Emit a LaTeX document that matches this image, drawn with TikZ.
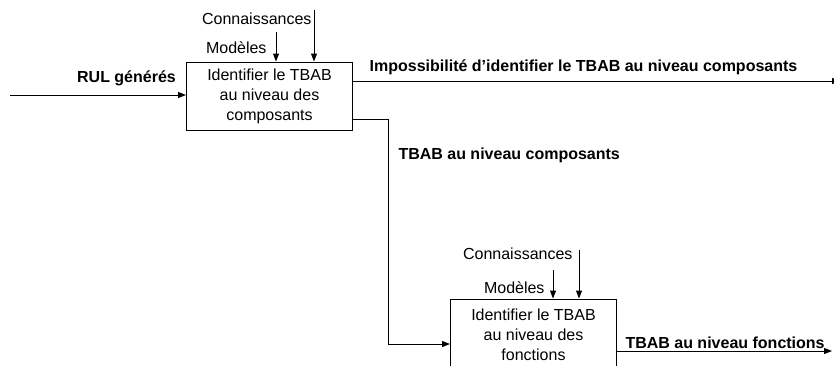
\documentclass[tikz,border=0pt]{standalone}
\usepackage{fontspec}
\setmainfont{Liberation Sans}
\usetikzlibrary{arrows.meta}

\begin{document}
\begin{tikzpicture}[x=0.75pt, y=-0.75pt, inner sep=0pt, line width=0.75pt,
    >={Triangle[length=6pt,width=4.5pt]},
    every node/.style={font=\fontsize{12}{15}\selectfont},
    activite/.style={draw, align=center, minimum width=124.5pt}]
    \useasboundingbox (0,0) rectangle (834,365);

    \node[activite, minimum height=51pt] (ident1) at (269.5,96) {Identifier le TBAB\\au niveau des\\composants};
    \node[above, font=\fontsize{12}{15}\selectfont\bfseries] (rul) at (126.5,86) {RUL générés};
    \node[left] (conn1) at (312,19) {Connaissances};
    \node[left] (mod1) at (267,48) {Modèles};
    \coordinate (rulin) at (10,95);
    \coordinate (conn1top) at (314,10);
    \coordinate (mod1top) at (276,32);

    \draw[->] (rulin) -- (rulin -| ident1.west);
    \draw[->] (conn1top) -- (conn1top |- ident1.north);
    \draw[->] (mod1top) -- (mod1top |- ident1.north);

    \node[font=\fontsize{12}{15}\selectfont\bfseries] (impos) at (583.5,67) {Impossibilité d’identifier le TBAB au niveau composants};
    \coordinate (imposend) at (840,81);
    \draw[->] (imposend -| ident1.east) -- (imposend);

    \node[activite, minimum height=54pt] (ident2) at (533.5,335) {Identifier le TBAB\\au niveau des\\fonctions};
    \node[right, font=\fontsize{12}{15}\selectfont\bfseries] (tbabc) at (398,155) {TBAB au niveau composants};
    \coordinate (bend1) at (388,119);
    \coordinate (bend2) at (388,344);
    \draw[->] (bend1 -| ident1.east) -- (bend1) -- (bend2) -- (bend2 -| ident2.west);

    \node[left] (conn2) at (573,254) {Connaissances};
    \node[left] (mod2) at (545,288) {Modèles};
    \coordinate (conn2top) at (579,250);
    \coordinate (mod2top) at (553,270);
    \draw[->] (conn2top) -- (conn2top |- ident2.north);
    \draw[->] (mod2top) -- (mod2top |- ident2.north);

    \node[right, font=\fontsize{12}{15}\selectfont\bfseries] (tbabf) at (625,343) {TBAB au niveau fonctions};
    \coordinate (fonctend) at (832,351);
    \draw[->] (fonctend -| ident2.east) -- (fonctend);

\end{tikzpicture}
\end{document}
